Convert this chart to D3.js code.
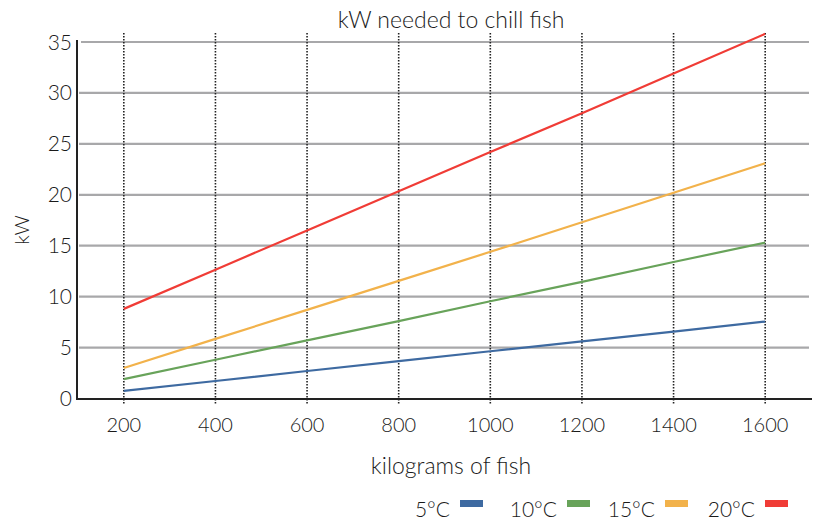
<!DOCTYPE html>
<html>
<head>
<meta charset="utf-8">
<script src="https://cdn.jsdelivr.net/npm/d3@7"></script>
<style>
  body { margin: 0; background: #fff; }
  text { font-family: Lato, "Noto Sans", sans-serif; fill: #1a1a1a; font-weight: 300; }
</style>
</head>
<body>
<svg width="819" height="520"></svg>
<script>
const kilograms = [200, 400, 600, 800, 1000, 1200, 1400, 1600];
const kw5 = [0.75, 1.72, 2.7, 3.67, 4.64, 5.6, 6.57, 7.55];
const kw10 = [1.9, 3.8, 5.7, 7.6, 9.55, 11.45, 13.4, 15.3];
const kw15 = [3.0, 5.85, 8.7, 11.55, 14.4, 17.3, 20.2, 23.1];
const kw20 = [8.8, 12.65, 16.5, 20.35, 24.2, 28.0, 31.9, 35.8];
const seriesNames = ["5°C", "10°C", "15°C", "20°C"];
const yTicks = [0, 5, 10, 15, 20, 25, 30, 35];

const series = [
    { name: seriesNames[0], values: kw5, color: "#3e6aa1" },
    { name: seriesNames[1], values: kw10, color: "#68a35a" },
    { name: seriesNames[2], values: kw15, color: "#f2b24b" },
    { name: seriesNames[3], values: kw20, color: "#f03c36" }
];

const svg = d3.select("svg");

const x = d3.scaleLinear().domain([100, 1700]).range([78, 811]);
const y = d3.scaleLinear().domain([0, 35]).range([398.5, 42]);

// horizontal grid
svg.append("g").selectAll("line")
    .data(yTicks.filter(d => d > 0))
    .enter().append("line")
    .attr("x1", d => d === 35 ? 81 : 79)
    .attr("x2", 809)
    .attr("y1", d => y(d))
    .attr("y2", d => y(d))
    .attr("stroke", "#a8a8aa")
    .attr("stroke-width", 2.2);

// dotted verticals
svg.append("g").selectAll("line")
    .data(kilograms)
    .enter().append("line")
    .attr("x1", d => x(d))
    .attr("x2", d => x(d))
    .attr("y1", 33)
    .attr("y2", 405)
    .attr("stroke", "#222")
    .attr("stroke-width", 1.6)
    .attr("stroke-dasharray", "1.4,1.6");

// axes lines
svg.append("line")
    .attr("x1", x(100) - 1).attr("x2", x(100) - 1)
    .attr("y1", 40).attr("y2", 399)
    .attr("stroke", "#222").attr("stroke-width", 2);
svg.append("line")
    .attr("x1", x(100) - 2).attr("x2", 812)
    .attr("y1", 399).attr("y2", 399)
    .attr("stroke", "#222").attr("stroke-width", 2);

// y tick labels
svg.append("g").selectAll("text")
    .data(yTicks)
    .enter().append("text")
    .attr("x", 72)
    .attr("y", d => y(d))
    .attr("dy", "0.36em")
    .attr("text-anchor", "end")
    .style("font-size", "21px")
    .text(d => d);

// x tick labels
svg.append("g").selectAll("text")
    .data(kilograms)
    .enter().append("text")
    .attr("x", d => x(d))
    .attr("y", 432)
    .attr("text-anchor", "middle")
    .style("font-size", "20px")
    .text(d => d);

let line = d3.line()
    .x(function (d, i) { return x(kilograms[i]); })
    .y(function (d) { return y(d); });

svg.append("g").selectAll("path")
    .data(series)
    .enter().append("path")
    .attr("d", d => line(d.values))
    .attr("fill", "none")
    .attr("stroke", d => d.color)
    .attr("stroke-width", 2.2);

// titles
svg.append("text")
    .attr("x", 451).attr("y", 28)
    .attr("text-anchor", "middle")
    .style("font-size", "23px")
    .text("kW needed to chill fish");

svg.append("text")
    .attr("x", 451).attr("y", 474)
    .attr("text-anchor", "middle")
    .style("font-size", "23px")
    .text("kilograms of fish");

svg.append("text")
    .attr("transform", "translate(29,230) rotate(-90)")
    .attr("text-anchor", "middle")
    .style("font-size", "20px")
    .text("kW");

// legend
const legendX = [450, 557, 655, 755];
let leg = svg.append("g").selectAll("g")
    .data(series)
    .enter().append("g")
    .attr("transform", (d, i) => "translate(" + legendX[i] + ",0)");

leg.append("text")
    .attr("x", 0).attr("y", 517)
    .attr("text-anchor", "end")
    .style("font-size", "21px")
    .text(d => d.name);

leg.append("rect")
    .attr("x", 10).attr("y", 500)
    .attr("width", 23).attr("height", 7)
    .attr("fill", d => d.color);
</script>
</body>
</html>
